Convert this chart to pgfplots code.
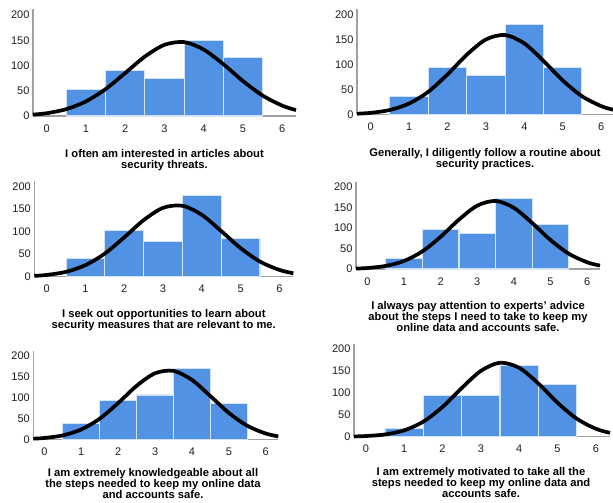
\documentclass[border=0pt]{standalone}
\usepackage{fontspec}
\setmainfont{Liberation Sans}
\usepackage{pgfplots}
\pgfplotsset{compat=1.18}
\definecolor{barblue}{RGB}{82,146,228}
\definecolor{axisgray}{RGB}{160,160,160}
\definecolor{ticktext}{RGB}{30,30,30}
\pgfplotsset{panel/.style={scale only axis, anchor=south west, ymin=0, ymax=212,
  axis x line*=bottom, axis y line*=left, ytick={0,50,100,150,200}, xtick={0,...,6},
  major tick length=0pt, axis line style={draw=axisgray, line width=1.2pt},
  tick label style={font=\fontsize{11}{12}\selectfont, text=ticktext},
  /pgf/number format/assume math mode=true, clip=false,
  xticklabel style={yshift=-5pt}},
  bars/.style={ybar, bar width=1, fill=barblue, draw=white!75!barblue, line width=1.1pt},
  curve/.style={black, line width=3.7pt, smooth, no markers}}
\tikzset{ttl/.style={anchor=north, align=center, inner sep=0pt, font=\fontsize{11.2}{10.9}\selectfont\bfseries}}
\begin{document}
\begin{tikzpicture}[x=1pt,y=1pt]
\useasboundingbox (0,0) rectangle (613,503);
% Panel 1
\begin{axis}[panel, at={(33pt,387pt)}, width=263pt, height=107pt, xmin=-0.35, xmax=6.35]
\addplot[bars] coordinates {(1,53) (2,90) (3,75) (4,150) (5,116)};
\addplot[curve] coordinates {(-0.35,2.8) (0,5.5) (0.5,13.6) (1,29.0) (1.5,53.3) (2,85.2) (2.5,117.7) (3,141.0) (3.5,146.4) (4,131.5) (4.5,102.6) (5,69.2) (5.5,40.5) (6,20.5) (6.35,11.7)};
\end{axis}
% Panel 2
\begin{axis}[panel, at={(357pt,388.7pt)}, width=256pt, height=105.3pt, xmin=-0.357, xmax=6.31]
\addplot[bars] coordinates {(1,35) (2,95) (3,79) (4,181) (5,95)};
\addplot[curve] coordinates {(-0.357,1.2) (0,2.9) (0.5,8.7) (1,21.7) (1.5,45.4) (2,80.3) (2.5,119.8) (3,150.6) (3.5,159.6) (4,142.7) (4.5,107.4) (5,68.2) (5.5,36.5) (6,16.5) (6.31,9.2)};
\end{axis}
% Panel 3
\begin{axis}[panel, at={(34.3pt,226.3pt)}, width=259pt, height=95.4pt, xmin=-0.32, xmax=6.36]
\addplot[bars] coordinates {(1,41) (2,103) (3,78) (4,181) (5,85)};
\addplot[curve] coordinates {(-0.32,1.8) (0,3.9) (0.5,10.8) (1,25.7) (1.5,51.5) (2,87.4) (2.5,125.7) (3,153.0) (3.5,157.6) (4,137.5) (4.5,101.5) (5,63.5) (5.5,33.6) (6,15.1) (6.36,7.6)};
\end{axis}
% Panel 4
\begin{axis}[panel, at={(356pt,234pt)}, width=244pt, height=87pt, xmin=-0.31, xmax=6.35]
\addplot[bars] coordinates {(1,26) (2,97) (3,87) (4,171) (5,108)};
\addplot[curve] coordinates {(-0.31,1.1) (0,2.4) (0.5,7.5) (1,19.5) (1.5,42.8) (2,78.4) (2.5,120.3) (3,154.4) (3.5,165.8) (4,149.0) (4.5,112.0) (5,70.5) (5.5,37.1) (6,16.3) (6.35,8.3)};
\end{axis}
% Panel 5
\begin{axis}[panel, at={(33.3pt,63.7pt)}, width=245pt, height=88.6pt, xmin=-0.30, xmax=6.34]
\addplot[bars] coordinates {(1,38) (2,92) (3,106) (4,169) (5,85)};
\addplot[curve] coordinates {(-0.30,1.5) (0,3.1) (0.5,9.4) (1,23.5) (1.5,49.3) (2,86.7) (2.5,127.9) (3,158.0) (3.5,163.7) (4,142.1) (4.5,103.4) (5,63.1) (5.5,32.3) (6,13.8) (6.34,7.0)};
\end{axis}
% Panel 6
\begin{axis}[panel, at={(354pt,66.3pt)}, width=256pt, height=92.9pt, xmin=-0.31, xmax=6.37]
\addplot[bars] coordinates {(1,18) (2,93) (3,94) (4,163) (5,119)};
\addplot[curve] coordinates {(-0.31,0.6) (0,1.5) (0.5,5.1) (1,14.5) (1.5,34.4) (2,67.9) (2.5,110.9) (3,150.2) (3.5,168.8) (4,157.2) (4.5,121.4) (5,77.7) (5.5,41.2) (6,18.1) (6.37,8.8)};
\end{axis}
% Titles
\node[ttl] at (164.5,353.5) {I often am interested in articles about\\security threats.};
\node[ttl] at (485,355.2) {Generally, I diligently follow a routine about\\security practices.};
\node[ttl] at (163.8,193.5) {I seek out opportunities to learn about\\security measures that are relevant to me.};
\node[ttl] at (478,201.8) {I always pay attention to experts' advice\\about the steps I need to take to keep my\\online data and accounts safe.};
\node[ttl] at (153,35) {I am extremely knowledgeable about all\\the steps needed to keep my online data\\and accounts safe.};
\node[ttl] at (481,36) {I am extremely motivated to take all the\\steps needed to keep my online data and\\accounts safe.};
\end{tikzpicture}
\end{document}
